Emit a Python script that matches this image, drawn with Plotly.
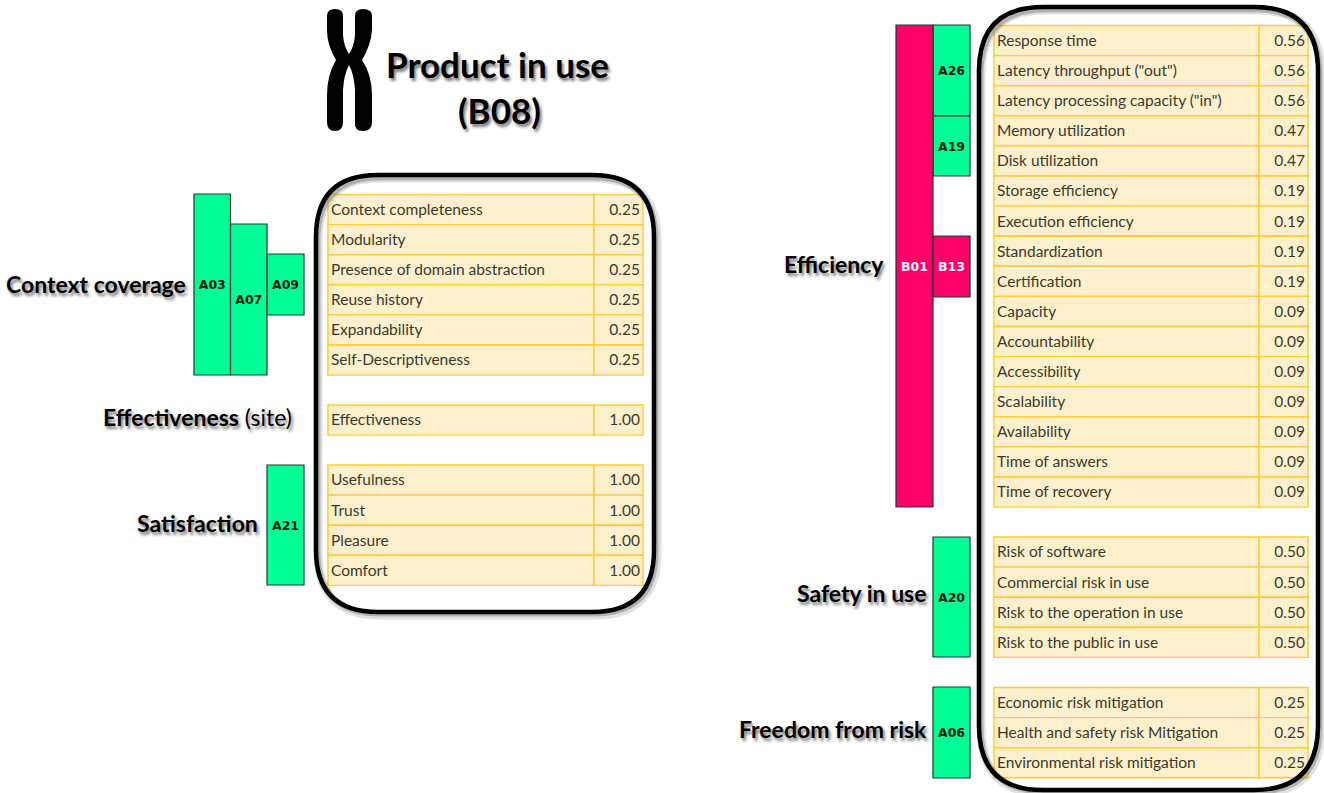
import plotly.graph_objects as go

# ---------- data ----------
context_names = ["Context completeness", "Modularity", "Presence of domain abstraction",
                 "Reuse history", "Expandability", "Self-Descriptiveness"]
context_vals = ["0.25", "0.25", "0.25", "0.25", "0.25", "0.25"]
effect_names = ["Effectiveness"]
effect_vals = ["1.00"]
satis_names = ["Usefulness", "Trust", "Pleasure", "Comfort"]
satis_vals = ["1.00", "1.00", "1.00", "1.00"]
effic_names = ["Response time", 'Latency throughput ("out")', 'Latency processing capacity ("in")',
               "Memory utilization", "Disk utilization", "Storage efficiency", "Execution efficiency",
               "Standardization", "Certification", "Capacity", "Accountability", "Accessibility",
               "Scalability", "Availability", "Time of answers", "Time of recovery"]
effic_vals = ["0.56", "0.56", "0.56", "0.47", "0.47", "0.19", "0.19", "0.19", "0.19",
              "0.09", "0.09", "0.09", "0.09", "0.09", "0.09", "0.09"]
safety_names = ["Risk of software", "Commercial risk in use", "Risk to the operation in use",
                "Risk to the public in use"]
safety_vals = ["0.50", "0.50", "0.50", "0.50"]
risk_names = ["Economic risk mitigation", "Health and safety risk Mitigation", "Environmental risk mitigation"]
risk_vals = ["0.25", "0.25", "0.25"]

# ---------- page layout (pixels on the 1324x793 axes) ----------
W, H = 1324, 793
ROW = 30.1
CELL_FILL, CELL_LINE = "#FEF0CC", "#FFCC33"
GREEN, PINK = "#00FF96", "#FF0066"
LABEL_FONT = "Lato"
HEAD_SHADOW = "2px 3px 3px rgba(70,70,70,0.7)"
TEXT_DY = 1.5

tables = [  # names, values, x0, xdiv, x1, y0
    (context_names, context_vals, 328, 594, 643, 194.5),
    (effect_names, effect_vals, 328, 594, 643, 405),
    (satis_names, satis_vals, 328, 594, 643, 465),
    (effic_names, effic_vals, 994, 1259, 1308, 25.5),
    (safety_names, safety_vals, 994, 1259, 1308, 537),
    (risk_names, risk_vals, 994, 1259, 1308, 687.5),
]
tags = [  # label, x0, x1, y0, y1, colour, text colour
    ("A03", 194, 230.5, 194, 375, GREEN, "#06200f"),
    ("A07", 230.5, 267, 224, 375, GREEN, "#06200f"),
    ("A09", 267, 304, 254, 315, GREEN, "#06200f"),
    ("A21", 267, 304, 465, 585, GREEN, "#06200f"),
    ("B01", 896, 933, 25, 507, PINK, "#ffffff"),
    ("A26", 933, 970, 25, 116, GREEN, "#06200f"),
    ("A19", 933, 970, 116, 176, GREEN, "#06200f"),
    ("B13", 933, 970, 236, 297, PINK, "#ffffff"),
    ("A20", 933, 970, 537, 657, GREEN, "#06200f"),
    ("A06", 933, 970, 687, 778, GREEN, "#06200f"),
]
heads = [  # html text, right edge, y
    ("<b>Context coverage</b>", 188, 284),
    ("<b>Effectiveness</b> (site)", 294, 417),
    ("<b>Satisfaction</b>", 260, 523),
    ("<b>Efficiency</b>", 886, 264),
    ("<b>Safety in use</b>", 929, 593),
    ("<b>Freedom from risk</b>", 929, 729),
]


def rounded(x0, y0, x1, y1, r):
    return (f"M{x0 + r},{y0} L{x1 - r},{y0} Q{x1},{y0} {x1},{y0 + r} L{x1},{y1 - r} "
            f"Q{x1},{y1} {x1 - r},{y1} L{x0 + r},{y1} Q{x0},{y1} {x0},{y1 - r} "
            f"L{x0},{y0 + r} Q{x0},{y0} {x0 + r},{y0} Z")


fig = go.Figure()

# table cells drawn as bars
cx, cw, cb, cy = [], [], [], []
lx, ly, lt, vx, vy, vt = [], [], [], [], [], []
for names, vals, x0, xd, x1, y0 in tables:
    for i, (n, v) in enumerate(zip(names, vals)):
        top = y0 + i * ROW
        cx += [(x0 + xd) / 2, (xd + x1) / 2]
        cw += [xd - x0, x1 - xd]
        cb += [top, top]
        cy += [ROW, ROW]
        lx.append(x0 + 3); ly.append(top + ROW / 2 + TEXT_DY); lt.append(n)
        vx.append(x1 - 3); vy.append(top + ROW / 2 + TEXT_DY); vt.append(v)
fig.add_trace(go.Bar(x=cx, y=cy, base=cb, width=cw,
                     marker=dict(color=CELL_FILL, line=dict(color=CELL_LINE, width=1.4))))

# tag bars
for col in (GREEN, PINK):
    sel = [t for t in tags if t[5] == col]
    fig.add_trace(go.Bar(x=[(t[1] + t[2]) / 2 for t in sel], y=[t[4] - t[3] for t in sel],
                         base=[t[3] for t in sel], width=[t[2] - t[1] for t in sel],
                         marker=dict(color=col, line=dict(color="#1c3a30", width=1.2))))

fig.add_trace(go.Scatter(x=lx, y=ly, text=lt, mode="text", textposition="middle right",
                         textfont=dict(family=LABEL_FONT, size=15.5, color="#3a3a2c")))
fig.add_trace(go.Scatter(x=vx, y=vy, text=vt, mode="text", textposition="middle left",
                         textfont=dict(family=LABEL_FONT, size=15.5, color="#3a3a2c")))
fig.add_trace(go.Scatter(x=[(t[1] + t[2]) / 2 for t in tags], y=[(t[3] + t[4]) / 2 + TEXT_DY for t in tags],
                         text=[f"<b>{t[0]}</b>" for t in tags], mode="text", textposition="middle center",
                         textfont=dict(family="DejaVu Sans", size=12.5, color=[t[6] for t in tags])))

# rounded frames with a soft shadow
shapes = []
for x0, y0, x1, y1, r in [(316, 175, 654, 612, 62), (979, 7, 1318, 790, 64)]:
    shapes.append(dict(type="path", path=rounded(x0 + 2, y0 + 3, x1 + 3, y1 + 3, r), xref="x", yref="y",
                       line=dict(color="rgba(120,120,120,0.22)", width=9), layer="above"))
    shapes.append(dict(type="path", path=rounded(x0 + 2, y0 + 3, x1 + 2, y1 + 2, r), xref="x", yref="y",
                       line=dict(color="rgba(120,120,120,0.45)", width=5), layer="above"))
    shapes.append(dict(type="path", path=rounded(x0, y0, x1, y1, r), xref="x", yref="y",
                       line=dict(color="#000000", width=4.5), layer="above"))
# chromosome glyph
shapes.append(dict(type="path", xref="x", yref="y", fillcolor="#000000", line=dict(width=0), path=(
    "M327,16 Q327,9 335,9 Q343,9 343,16 L343,35 Q344,47 349,54 Q354,47 355,35 L355,16 Q355,9 363,9 "
    "Q372,9 372,16 L372,30 Q371,45 362,60 Q372,75 372,95 L372,122 Q372,131 363,131 Q354,131 355,122 "
    "L355,90 Q354,74 349,65 Q344,74 343,90 L343,122 Q343,131 335,131 Q327,131 327,122 L327,95 "
    "Q327,75 336,60 Q327,45 327,30 Z")))

anns = []
for text, xr, y in heads:
    anns.append(dict(x=xr, y=y, xref="x", yref="y", text=text, showarrow=False, xanchor="right", yanchor="middle",
                     font=dict(family=LABEL_FONT, size=23, color="#000000", shadow=HEAD_SHADOW)))
for text, xc, y in [("<b>Product in use</b>", 497, 64), ("<b>(B08)</b>", 499, 110)]:
    anns.append(dict(x=xc, y=y, xref="x", yref="y", text=text, showarrow=False, xanchor="center", yanchor="middle",
                     font=dict(family=LABEL_FONT, size=35, color="#000000", shadow=HEAD_SHADOW)))

fig.update_layout(
    width=W, height=H, margin=dict(l=0, r=0, t=0, b=0), showlegend=False, barmode="overlay",
    plot_bgcolor="#ffffff", paper_bgcolor="#ffffff", shapes=shapes, annotations=anns, hovermode=False,
    xaxis=dict(range=[0, W], visible=False, fixedrange=True),
    yaxis=dict(range=[H, 0], visible=False, fixedrange=True),
)
fig.write_html("out.html", config={"displayModeBar": False},
               post_script="document.body.style.margin='0';document.body.style.overflow='hidden';")
